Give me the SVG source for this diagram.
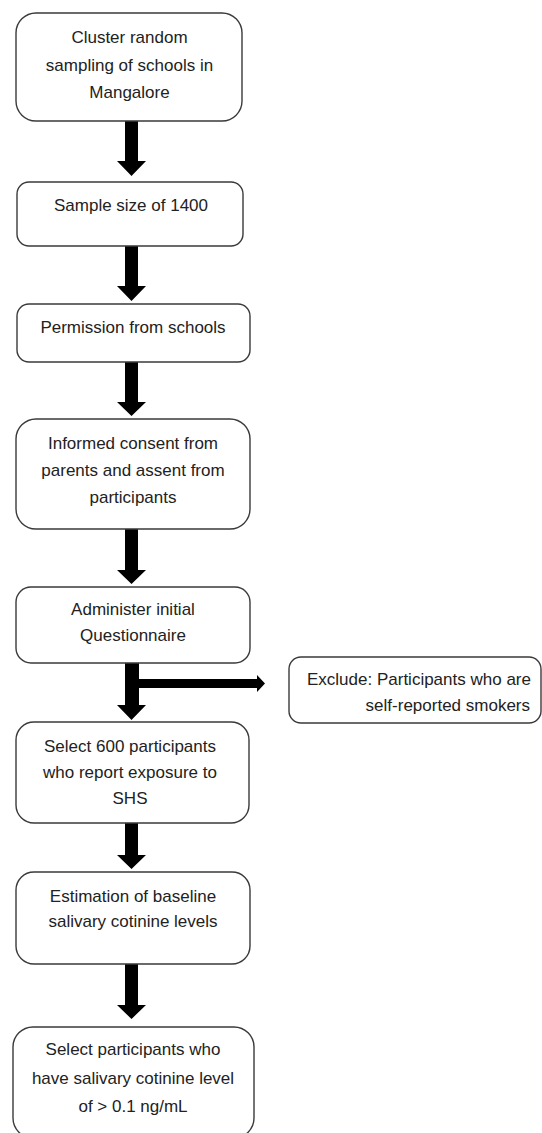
<svg xmlns="http://www.w3.org/2000/svg" width="542" height="1133" viewBox="0 0 542 1133">
<style>
.box{fill:#fff;stroke:#3a3a3a;stroke-width:1.4}
.t{font-family:"Liberation Sans",Arial,sans-serif;font-size:17px;fill:#222;text-anchor:middle}
.arr{fill:#000}
</style>
<rect width="542" height="1133" fill="#fff"/>
<g id="connectors">
<polygon class="arr" points="125,121 138,121 138,161 146,161 131.5,176 117,161 125,161"/>
<polygon class="arr" points="125,246 138,246 138,286 146,286 131.5,301 117,286 125,286"/>
<polygon class="arr" points="125,362 138,362 138,402 146,402 131.5,416 117,402 125,402"/>
<polygon class="arr" points="125,529 138,529 138,570 146,570 131.5,584 117,570 125,570"/>
<polygon class="arr" points="125,663 139,663 139,705 146,705 131.5,720 117,705 125,705"/>
<polygon class="arr" points="139,679 257,679 257,675 265,683.5 257,692 257,688 139,688"/>
<polygon class="arr" points="125,823 138,823 138,855 146,855 131.5,869 117,855 125,855"/>
<polygon class="arr" points="125,964 138,964 138,1005 146,1005 131.5,1019 117,1005 125,1005"/>
</g>
<g id="n1"><rect class="box" x="16" y="13" width="226" height="108" rx="20"/>
<text class="t" x="129.5" y="43">Cluster random</text>
<text class="t" x="129.5" y="70.5">sampling of schools in</text>
<text class="t" x="129.5" y="97.5">Mangalore</text></g>
<g id="n2"><rect class="box" x="17" y="182" width="226" height="64" rx="12"/>
<text class="t" x="131" y="210.5">Sample size of 1400</text></g>
<g id="n3"><rect class="box" x="17" y="304" width="233" height="58" rx="12"/>
<text class="t" x="133" y="333">Permission from schools</text></g>
<g id="n4"><rect class="box" x="16" y="419" width="234" height="110" rx="20"/>
<text class="t" x="133" y="449">Informed consent from</text>
<text class="t" x="133" y="476">parents and assent from</text>
<text class="t" x="133" y="503">participants</text></g>
<g id="n5"><rect class="box" x="16" y="587" width="234" height="76" rx="15"/>
<text class="t" x="133" y="615">Administer initial</text>
<text class="t" x="133" y="641">Questionnaire</text></g>
<g id="n_excl"><rect class="box" x="289" y="657" width="252" height="66" rx="12"/>
<text class="t" x="307" y="685" style="text-anchor:start">Exclude: Participants who are</text>
<text class="t" x="530" y="711" style="text-anchor:end">self-reported smokers</text></g>
<g id="n6"><rect class="box" x="16" y="722" width="233" height="101" rx="18"/>
<text class="t" x="130" y="752">Select 600 participants</text>
<text class="t" x="130" y="778">who report exposure to</text>
<text class="t" x="130" y="804">SHS</text></g>
<g id="n7"><rect class="box" x="16" y="872" width="234" height="92" rx="18"/>
<text class="t" x="133" y="902">Estimation of baseline</text>
<text class="t" x="133" y="927">salivary cotinine levels</text></g>
<g id="n8"><rect class="box" x="13" y="1027" width="241" height="111" rx="20"/>
<text class="t" x="133" y="1055">Select participants who</text>
<text class="t" x="133" y="1084">have salivary cotinine level</text>
<text class="t" x="133" y="1112">of &gt; 0.1 ng/mL</text></g>
</svg>
